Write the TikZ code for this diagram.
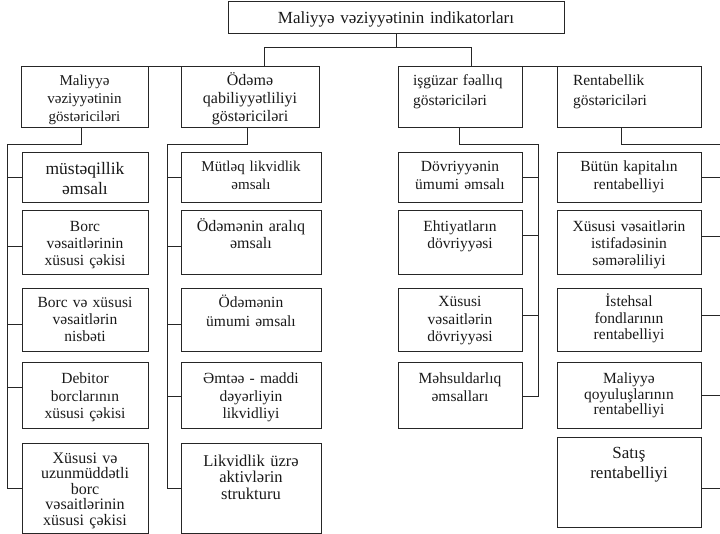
\documentclass[tikz,border=0pt]{standalone}
\usepackage{fontspec}
\setmainfont{Liberation Serif}
\usetikzlibrary{calc}
\tikzset{
  box/.style={draw=black!85, line width=1pt, inner sep=0pt, outer sep=0pt, anchor=north west},
  conn/.style={draw=black!85, line width=1pt},
  txt/.style={inner sep=0pt, anchor=base, align=center, text=black!90},
  fs/.style 2 args={font=\fontsize{#1}{#2}\selectfont},
}
\newcommand\bx[8]{%
  \node[box, minimum width={(#4-#2)*1pt}, minimum height={(#5-#3)*1pt}] (#1) at (#2,#3) {};
  \node[txt, text width={(#4-#2)*1pt}, #7] at ({(#2+#4)/2},#6) {#8};
}
\begin{document}
\begin{tikzpicture}[x=1pt,y=-1pt]
\useasboundingbox (0,0) rectangle (720,534);
\clip (0,0) rectangle (720,534);
% top and level 2
\bx{T}{228}{2}{564}{34}{24}{fs={17}{20}}{Maliyyə vəziyyətinin indikatorları}
\bx{B1}{21}{67}{148}{128}{86}{fs={15}{18}}{Maliyyə\\vəziyyətinin\\göstəriciləri}
\bx{B2}{181}{67}{319}{128}{86}{fs={16}{18}}{Ödəmə\\qabiliyyətliliyi\\göstəriciləri}
\bx{B3}{398}{67}{522}{128}{86}{fs={15.5}{19.5},align=left,xshift=15pt}{işgüzar fəallıq\\göstəriciləri}
\bx{B4}{557}{67}{701}{128}{86}{fs={15.5}{19.5},align=left,xshift=16pt}{Rentabellik\\göstəriciləri}
% column 1
\bx{C11}{22}{153}{148}{203}{175}{fs={17.5}{20}}{müstəqillik\\əmsalı}
\bx{C12}{22}{211}{148}{275}{232}{fs={15.5}{17}}{Borc\\vəsaitlərinin\\xüsusi çəkisi}
\bx{C13}{22}{289}{148}{352}{308}{fs={15.5}{17}}{Borc və xüsusi\\vəsaitlərin\\nisbəti}
\bx{C14}{22}{363}{148}{428}{384}{fs={15.5}{17.5}}{Debitor\\borclarının\\xüsusi çəkisi}
\bx{C15}{22}{443}{148}{533}{463}{fs={16}{15.5}}{Xüsusi və\\uzunmüddətli\\borc\\vəsaitlərinin\\xüsusi çəkisi}
% column 2
\bx{C21}{181}{153}{321}{203}{172}{fs={15}{18}}{Mütləq likvidlik\\əmsalı}
\bx{C22}{181}{211}{321}{275}{232}{fs={16}{17}}{Ödəmənin aralıq\\əmsalı}
\bx{C23}{181}{289}{321}{352}{308}{fs={15.5}{19}}{Ödəmənin\\ümumi əmsalı}
\bx{C24}{181}{363}{321}{428}{384}{fs={15.5}{17.5}}{Əmtəə - maddi\\dəyərliyin\\likvidliyi}
\bx{C25}{181}{443}{321}{533}{466}{fs={16.5}{16.5}}{Likvidlik üzrə\\aktivlərin\\strukturu}
% column 3
\bx{C31}{398}{153}{522}{203}{172}{fs={15.5}{18}}{Dövriyyənin\\ümumi əmsalı}
\bx{C32}{398}{211}{522}{275}{232}{fs={15.5}{17}}{Ehtiyatların\\dövriyyəsi}
\bx{C33}{398}{289}{522}{352}{307}{fs={15.5}{17.5}}{Xüsusi\\vəsaitlərin\\dövriyyəsi}
\bx{C34}{398}{363}{522}{428}{384}{fs={15.5}{17.5}}{Məhsuldarlıq\\əmsalları}
% column 4
\bx{C41}{557}{153}{701}{203}{172}{fs={15.5}{18}}{Bütün kapitalın\\rentabelliyi}
\bx{C42}{557}{211}{701}{275}{232}{fs={15.5}{17}}{Xüsusi vəsaitlərin\\istifadəsinin\\səmərəliliyi}
\bx{C43}{557}{289}{701}{352}{307}{fs={15.5}{16.5}}{İstehsal\\fondlarının\\rentabelliyi}
\bx{C44}{557}{363}{701}{428}{384}{fs={15.5}{15.5}}{Maliyyə\\qoyuluşlarının\\rentabelliyi}
\bx{C45}{557}{437}{701}{527}{458}{fs={17}{20}}{Satış\\rentabelliyi}
% connectors: top
\coordinate (hubL) at (264,48);
\coordinate (hubR) at (471,48);
\draw[conn] (T.south) -- (T.south |- hubL);
\draw[conn] (B2.north -| hubL) -- (hubL) -- (hubR) -- (B3.north -| hubR);
\draw[conn] (B1.north east) -- (B2.north west);
\draw[conn] (B3.north east) -- (B4.north west);
% column 1 bus
\coordinate (k1) at (81,145);
\coordinate (v1) at (7,145);
\draw[conn] (B1.south -| k1) -- (k1) -- (v1) -- (v1 |- C15.west);
\draw[conn] (C11.west) -- (C11.west -| v1);
\draw[conn] ([yshift=-4pt]C12.west) -- ([yshift=-4pt]C12.west -| v1);
\draw[conn] ([yshift=-4pt]C13.west) -- ([yshift=-4pt]C13.west -| v1);
\draw[conn] ([yshift=8pt]C14.west) -- ([yshift=8pt]C14.west -| v1);
\draw[conn] (C15.west) -- (C15.west -| v1);
% column 2 bus
\coordinate (k2) at (247,145);
\coordinate (v2) at (167,145);
\draw[conn] (B2.south -| k2) -- (k2) -- (v2) -- (v2 |- C25.west);
\draw[conn] (C21.west) -- (C21.west -| v2);
\draw[conn] ([yshift=-4pt]C22.west) -- ([yshift=-4pt]C22.west -| v2);
\draw[conn] ([yshift=-4pt]C23.west) -- ([yshift=-4pt]C23.west -| v2);
\draw[conn] ([yshift=-1pt]C24.west) -- ([yshift=-1pt]C24.west -| v2);
\draw[conn] (C25.west) -- (C25.west -| v2);
% column 3 bus
\coordinate (k3) at (459,145);
\coordinate (v3) at (538,145);
\draw[conn] (B3.south -| k3) -- (k3) -- (v3) -- ([yshift=-1pt]v3 |- C34.east);
\draw[conn] (C31.east) -- (C31.east -| v3);
\draw[conn] ([yshift=7pt]C32.east) -- ([yshift=7pt]C32.east -| v3);
\draw[conn] ([yshift=5pt]C33.east) -- ([yshift=5pt]C33.east -| v3);
\draw[conn] ([yshift=-1pt]C34.east) -- ([yshift=-1pt]C34.east -| v3);
% column 4 bus
\coordinate (k4) at (621,145);
\coordinate (v4) at (724,145);
\draw[conn] (B4.south -| k4) -- (k4) -- (v4) -- ([yshift=-6pt]v4 |- C45.east);
\draw[conn] (C41.east) -- (C41.east -| v4);
\draw[conn] ([yshift=6pt]C42.east) -- ([yshift=6pt]C42.east -| v4);
\draw[conn] ([yshift=5pt]C43.east) -- ([yshift=5pt]C43.east -| v4);
\draw[conn] (C44.east) -- (C44.east -| v4);
\draw[conn] ([yshift=-6pt]C45.east) -- ([yshift=-6pt]C45.east -| v4);
\end{tikzpicture}
\end{document}
